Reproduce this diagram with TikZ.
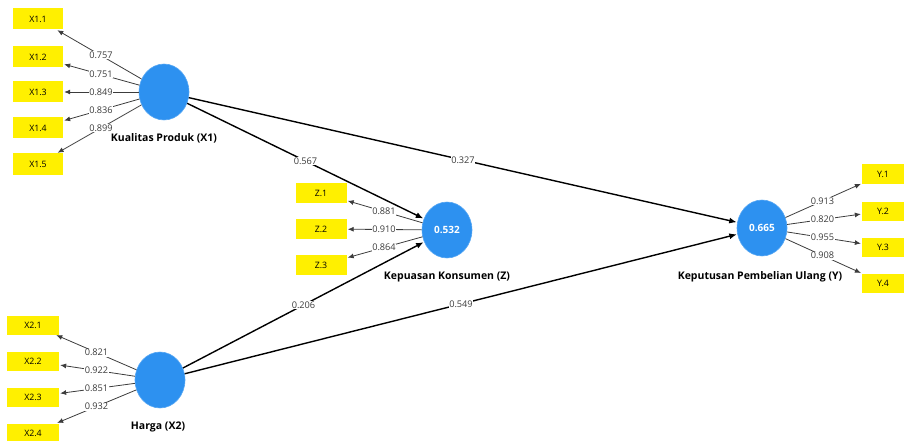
\documentclass[tikz,border=0pt]{standalone}
\usepackage{fontspec}
\setmainfont{Open Sans}
\usetikzlibrary{shapes.geometric,calc,arrows.meta}
\definecolor{lvblue}{RGB}{45,145,240}
\definecolor{indyellow}{RGB}{255,240,0}
\definecolor{loadgray}{RGB}{60,60,60}
\begin{document}
\begin{tikzpicture}[x=1pt,y=-1pt,
  latent/.style={ellipse,fill=lvblue,draw=lvblue!80!white,line width=0.6pt,minimum width=50pt,minimum height=56pt,inner sep=0pt,text=white,font=\fontsize{10}{11}\selectfont\bfseries},
  ind/.style={rectangle,fill=indyellow,minimum width=50pt,minimum height=21pt,inner sep=0pt,font=\fontsize{8.8}{10}\selectfont},
  lvlabel/.style={font=\fontsize{10.5}{12}\selectfont\bfseries,inner sep=0pt},
  loadline/.style={draw=loadgray,line width=0.8pt,-{Latex[length=6pt,width=5pt]},shorten >=1pt},
  pathline/.style={draw=black,line width=1.4pt,-{Latex[length=7.5pt,width=6pt]},shorten >=0.5pt},
  val/.style={fill=white,inner sep=0.6pt,text=loadgray,font=\fontsize{9.2}{10}\selectfont}
]
\useasboundingbox (0,0) rectangle (905,441);
% latent variables
\node[latent] (x1) at (164,92) {};
\node[latent] (x2) at (160,380) {};
\node[latent] (z) at (447,230) {0.532};
\node[latent] (y) at (762,228) {0.665};
% latent labels
\node[lvlabel] (x1l) at (164,138) {Kualitas Produk (X1)};
\node[lvlabel] (x2l) at (158,427) {Harga (X2)};
\node[lvlabel] (zl) at (447,277) {Kepuasan Konsumen (Z)};
\node[lvlabel] (yl) at (760,277) {Keputusan Pembelian Ulang (Y)};
% indicators X1
\node[ind] (x11) at (38,19) {X1.1};
\node[ind] (x12) at (38,57) {X1.2};
\node[ind] (x13) at (38,92) {X1.3};
\node[ind] (x14) at (38,128) {X1.4};
\node[ind] (x15) at (38,164) {X1.5};
% indicators X2
\node[ind,minimum width=52pt,minimum height=19pt] (x21) at (33,325) {X2.1};
\node[ind,minimum width=52pt,minimum height=19pt] (x22) at (33,361) {X2.2};
\node[ind,minimum width=52pt,minimum height=19pt] (x23) at (33,397) {X2.3};
\node[ind,minimum width=52pt,minimum height=19pt] (x24) at (33,433) {X2.4};
% indicators Z
\node[ind,minimum width=51pt,minimum height=20pt] (z1) at (321,193) {Z.1};
\node[ind,minimum width=51pt,minimum height=20pt] (z2) at (321,229) {Z.2};
\node[ind,minimum width=51pt,minimum height=20pt] (z3) at (321,265) {Z.3};
% indicators Y
\node[ind,minimum width=42pt,minimum height=19pt] (y1) at (883,174) {Y.1};
\node[ind,minimum width=42pt,minimum height=19pt] (y2) at (883,211) {Y.2};
\node[ind,minimum width=42pt,minimum height=19pt] (y3) at (883,247) {Y.3};
\node[ind,minimum width=42pt,minimum height=19pt] (y4) at (883,283) {Y.4};
% outer loadings
\foreach \a/\b/\v in {x1/x11/0.757,x1/x12/0.751,x1/x13/0.849,x1/x14/0.836,x1/x15/0.899,
                      x2/x21/0.821,x2/x22/0.922,x2/x23/0.851,x2/x24/0.932,
                      z/z1/0.881,z/z2/0.910,z/z3/0.864,
                      y/y1/0.913,y/y2/0.820,y/y3/0.955,y/y4/0.908}{
  \draw[loadline] (\a) -- (\b);
  \node[val] at ($(\a)!0.5!(\b)$) {\v};
}
% structural paths
\foreach \a/\b/\v in {x1/z/0.567,x1/y/0.327,x2/z/0.206,x2/y/0.549}{
  \draw[pathline] (\a) -- (\b);
  \node[val] at ($(\a)!0.5!(\b)$) {\v};
}
\end{tikzpicture}
\end{document}
